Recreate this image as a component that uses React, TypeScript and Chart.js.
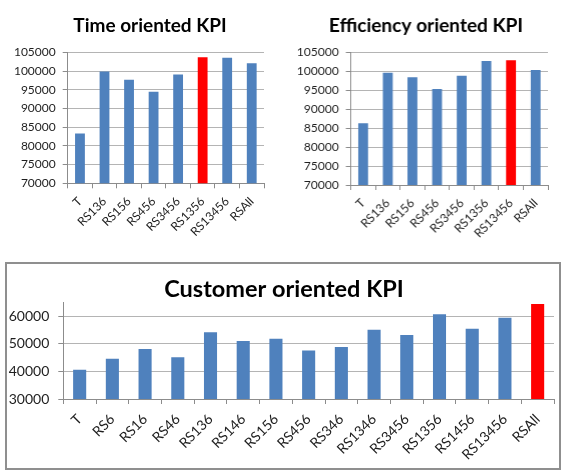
import React, { useEffect, useRef } from "react";
import { Chart, registerables } from "chart.js";

Chart.register(...registerables);

// ---- data ----
const timeLabels = ["T", "RS136", "RS156", "RS456", "RS3456", "RS1356", "RS13456", "RSAll"];
const timeValues = [83300, 99900, 97700, 94500, 99100, 103700, 103600, 102100];
const timeBest = "RS1356";

const efficiencyLabels = ["T", "RS136", "RS156", "RS456", "RS3456", "RS1356", "RS13456", "RSAll"];
const efficiencyValues = [86300, 99600, 98400, 95300, 98800, 102700, 102900, 100300];
const efficiencyBest = "RS13456";

const customerLabels = [
  "T", "RS6", "RS16", "RS46", "RS136", "RS146", "RS156", "RS456",
  "RS346", "RS1346", "RS3456", "RS1356", "RS1456", "RS13456", "RSAll",
];
const customerValues = [
  40600, 44600, 48200, 45200, 54300, 51100, 51900, 47600,
  48900, 55200, 53300, 60800, 55500, 59500, 64500,
];
const customerBest = "RSAll";

const kpiAxisTop = { min: 70000, max: 105000, step: 5000 };
const kpiAxisBottom = { min: 30000, max: 65000, step: 10000 };

// ---- styling ----
const BLUE = "#4F81BD";
const RED = "#FF0000";
const GRID = "#b4b4b4";
const AXIS = "#8c8c8c";
const TEXT = "#1e1e1e";
const FONT = 'Lato, "Open Sans", sans-serif';

type Props = {
  title: string;
  labels: string[];
  values: number[];
  best: string;
  axis: { min: number; max: number; step: number };
  left: number;
  top: number;
  width: number;
  height: number;
  yWidth: number;
  rightGap: number;
  xHeight: number;
  titleSize: number;
  titleTop: number;
  titleBottom: number;
  tickSize: number;
  yPad: number;
  xPad: number;
};

function KpiBar(p: Props) {
  const ref = useRef<HTMLCanvasElement | null>(null);

  useEffect(() => {
    if (!ref.current) return;
    const chart = new Chart(ref.current, {
      type: "bar",
      data: {
        labels: p.labels,
        datasets: [
          {
            data: p.values,
            yAxisID: "y",
            backgroundColor: p.labels.map((l) => (l === p.best ? RED : BLUE)),
            barPercentage: 0.4,
            categoryPercentage: 1,
          },
        ],
      },
      options: {
        responsive: false,
        animation: false,
        devicePixelRatio: 1,
        layout: { padding: 0 },
        plugins: {
          legend: { display: false },
          tooltip: { enabled: false },
          title: {
            display: true,
            text: p.title,
            color: "#000",
            font: { family: FONT, size: p.titleSize, weight: "bold", lineHeight: 1.2 },
            padding: { top: p.titleTop, bottom: p.titleBottom },
          },
        },
        scales: {
          x: {
            grid: {
              display: true,
              drawOnChartArea: false,
              drawTicks: true,
              tickLength: 5,
              color: AXIS,
              offset: true,
            },
            border: { color: AXIS },
            ticks: {
              autoSkip: false,
              minRotation: 45,
              maxRotation: 45,
              color: TEXT,
              padding: p.xPad,
              font: { family: FONT, size: p.tickSize },
            },
            afterFit: (s: any) => {
              s.height = p.xHeight;
            },
          },
          y: {
            min: p.axis.min,
            max: p.axis.max,
            grid: { color: GRID, tickColor: AXIS, tickLength: 5 },
            border: { color: AXIS },
            ticks: {
              autoSkip: false,
              color: TEXT,
              padding: p.yPad,
              font: { family: FONT, size: p.tickSize },
              callback: (v: any) => String(v),
            },
            // ticks every `step` from min, never one at a max that is off-step
            afterBuildTicks: (s: any) => {
              const t: { value: number }[] = [];
              for (let v = p.axis.min; v <= p.axis.max; v += p.axis.step) t.push({ value: v });
              s.ticks = t;
            },
            afterFit: (s: any) => {
              s.width = p.yWidth;
            },
          },
          // empty spacer on the right so the plot ends short of the title's centre span
          spacer: {
            type: "linear",
            position: "right",
            display: true,
            grid: { display: false },
            border: { display: false },
            ticks: { display: false },
            afterFit: (s: any) => {
              s.width = p.rightGap;
            },
          },
        },
      },
    } as any);
    return () => chart.destroy();
  }, []);

  return (
    <canvas
      ref={ref}
      width={p.width}
      height={p.height}
      style={{ position: "absolute", left: p.left, top: p.top, width: p.width, height: p.height }}
    />
  );
}

export default function App() {
  return (
    <div
      style={{
        position: "absolute",
        left: 0,
        top: 0,
        width: 565,
        height: 476,
        overflow: "hidden",
        background: "#fff",
      }}
    >
      <div
        style={{
          position: "absolute",
          left: 5,
          top: 262,
          width: 556,
          height: 208,
          border: "2px solid #8f8f8f",
          boxSizing: "border-box",
        }}
      />
      <KpiBar
        title="Time oriented KPI"
        labels={timeLabels}
        values={timeValues}
        best={timeBest}
        axis={kpiAxisTop}
        left={0}
        top={0}
        width={300}
        height={240}
        yWidth={67.7}
        rightGap={36}
        xHeight={56.7}
        titleSize={19}
        titleTop={14}
        titleBottom={15.7}
        tickSize={12}
        yPad={7}
        xPad={6}
      />
      <KpiBar
        title="Efficiency oriented KPI"
        labels={efficiencyLabels}
        values={efficiencyValues}
        best={efficiencyBest}
        axis={kpiAxisTop}
        left={287.4}
        top={0}
        width={277.6}
        height={240}
        yWidth={63.6}
        rightGap={17}
        xHeight={55}
        titleSize={19}
        titleTop={14.3}
        titleBottom={15.2}
        tickSize={12}
        yPad={7}
        xPad={6}
      />
      <KpiBar
        title="Customer oriented KPI"
        labels={customerLabels}
        values={customerValues}
        best={customerBest}
        axis={kpiAxisBottom}
        left={0}
        top={262}
        width={568}
        height={210}
        yWidth={63.3}
        rightGap={14}
        xHeight={73}
        titleSize={23.5}
        titleTop={13.5}
        titleBottom={-1}
        tickSize={14}
        yPad={9}
        xPad={7}
      />
    </div>
  );
}
